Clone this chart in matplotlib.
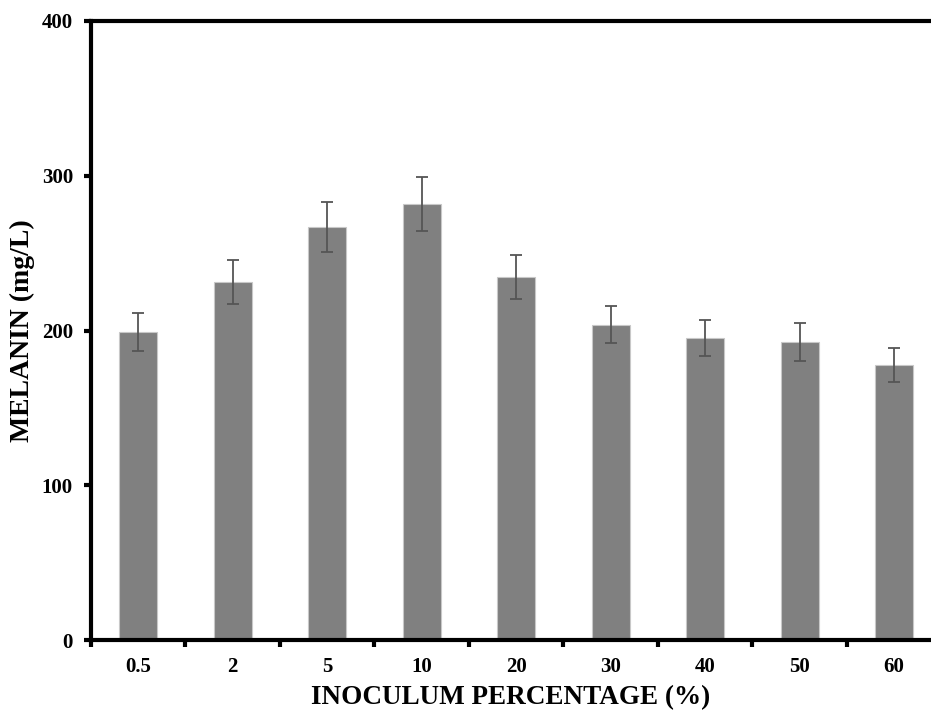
import matplotlib
matplotlib.use("Agg")
import matplotlib.pyplot as plt
import numpy as np

categories = ["0.5", "2", "5", "10", "20", "30", "40", "50", "60"]
melanin = [199.0, 231.3, 266.9, 281.7, 234.6, 203.6, 195.2, 192.6, 177.7]
errors = [12.3, 14.2, 16.2, 17.5, 14.0, 12.0, 11.6, 12.0, 10.7]
yticks = [0, 100, 200, 300, 400]

plt.rcParams['font.family'] = ['Liberation Serif', 'DejaVu Serif']

fig = plt.figure(figsize=(9.31, 7.15), dpi=100)
ax = fig.add_axes([91/931, 1-640/715, 1-91/931, (640-21)/715])

x = np.arange(len(categories))
ax.bar(x, melanin, width=0.40, color='#808080', edgecolor='#c8c8c8', linewidth=0.8, zorder=2)
ax.errorbar(x, melanin, yerr=errors, fmt='none', ecolor='#555555', elinewidth=1.3,
            capsize=4.5, capthick=1.3, zorder=3)

ax.set_xlim(-0.5, 8.39)
ax.set_ylim(0, 400)
ax.set_yticks(yticks)
ax.set_yticklabels([str(t) for t in yticks], fontweight='bold', fontsize=15)
ax.set_xticks(x)
ax.set_xticklabels(categories, fontweight='bold', fontsize=15)
ax.tick_params(axis='x', which='major', length=0, pad=12)
ax.set_xticks(np.arange(-0.5, 8.0, 1.0), minor=True)
ax.tick_params(axis='x', which='minor', length=5, width=3, direction='out')
ax.tick_params(axis='y', which='major', length=5, width=3, direction='out', pad=8)

for s in ['left', 'bottom', 'top']:
    ax.spines[s].set_linewidth(3)
    ax.spines[s].set_color('black')
ax.spines['right'].set_visible(False)

ax.set_xlabel('INOCULUM PERCENTAGE (%)', fontweight='bold', fontsize=19.5, labelpad=6)
ax.set_ylabel('MELANIN (mg/L)', fontweight='bold', fontsize=20, labelpad=5)

fig.savefig('out.png', dpi=100)
